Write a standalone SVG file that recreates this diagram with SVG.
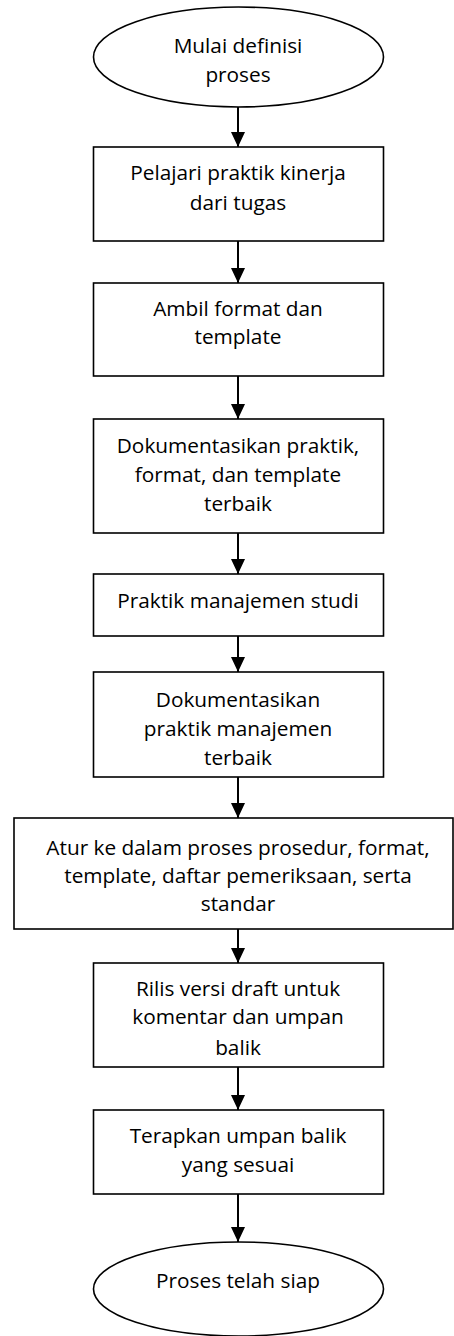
<svg xmlns="http://www.w3.org/2000/svg" width="454" height="1336" viewBox="0 0 454 1336">
<style>
.n{fill:#fff;stroke:#000;stroke-width:1.6}
.t{font-family:"Open Sans","Noto Sans",sans-serif;font-size:20.8px;fill:#000;text-anchor:middle}
.c{stroke:#000;stroke-width:2;fill:none}
</style>
<defs>
<marker id="ah" markerUnits="userSpaceOnUse" markerWidth="15" markerHeight="14" refX="15" refY="7" orient="auto" viewBox="0 0 15 14">
<path d="M0,0 L15,7 L0,14 z" fill="#000"/>
</marker>
</defs>
<g id="connectors">
<line class="c" x1="238" y1="107" x2="238" y2="147" marker-end="url(#ah)"/>
<line class="c" x1="238" y1="241" x2="238" y2="283" marker-end="url(#ah)"/>
<line class="c" x1="238" y1="376" x2="238" y2="419" marker-end="url(#ah)"/>
<line class="c" x1="238" y1="533" x2="238" y2="574" marker-end="url(#ah)"/>
<line class="c" x1="238" y1="636" x2="238" y2="672" marker-end="url(#ah)"/>
<line class="c" x1="238" y1="777" x2="238" y2="818" marker-end="url(#ah)"/>
<line class="c" x1="238" y1="929" x2="238" y2="963" marker-end="url(#ah)"/>
<line class="c" x1="238" y1="1067" x2="238" y2="1110" marker-end="url(#ah)"/>
<line class="c" x1="238" y1="1194" x2="238" y2="1242" marker-end="url(#ah)"/>
</g>
<g id="start">
<ellipse class="n" cx="238.5" cy="57" rx="145" ry="50"/>
<text class="t" x="238" y="53">Mulai definisi</text>
<text class="t" x="238" y="82">proses</text>
</g>
<g id="step1">
<rect class="n" x="93.5" y="147" width="290" height="94"/>
<text class="t" x="238" y="180">Pelajari praktik kinerja</text>
<text class="t" x="238" y="210">dari tugas</text>
</g>
<g id="step2">
<rect class="n" x="93.5" y="283" width="290" height="93"/>
<text class="t" x="238" y="316">Ambil format dan</text>
<text class="t" x="238" y="344">template</text>
</g>
<g id="step3">
<rect class="n" x="93.5" y="419" width="290" height="114"/>
<text class="t" x="238" y="453">Dokumentasikan praktik,</text>
<text class="t" x="238" y="482">format, dan template</text>
<text class="t" x="238" y="511">terbaik</text>
</g>
<g id="step4">
<rect class="n" x="93.5" y="574" width="290" height="62"/>
<text class="t" x="238" y="608">Praktik manajemen studi</text>
</g>
<g id="step5">
<rect class="n" x="93.5" y="672" width="290" height="105"/>
<text class="t" x="238" y="707">Dokumentasikan</text>
<text class="t" x="238" y="736">praktik manajemen</text>
<text class="t" x="238" y="765">terbaik</text>
</g>
<g id="step6">
<rect class="n" x="14" y="818" width="439" height="111"/>
<text class="t" x="238" y="855">Atur ke dalam proses prosedur, format,</text>
<text class="t" x="238" y="883">template, daftar pemeriksaan, serta</text>
<text class="t" x="238" y="911">standar</text>
</g>
<g id="step7">
<rect class="n" x="93.5" y="963" width="290" height="104"/>
<text class="t" x="238" y="996">Rilis versi draft untuk</text>
<text class="t" x="238" y="1024">komentar dan umpan</text>
<text class="t" x="238" y="1055">balik</text>
</g>
<g id="step8">
<rect class="n" x="93.5" y="1110" width="290" height="84"/>
<text class="t" x="238" y="1143">Terapkan umpan balik</text>
<text class="t" x="238" y="1172">yang sesuai</text>
</g>
<g id="end">
<ellipse class="n" cx="238.5" cy="1289" rx="145" ry="47"/>
<text class="t" x="238" y="1288">Proses telah siap</text>
</g>
</svg>
